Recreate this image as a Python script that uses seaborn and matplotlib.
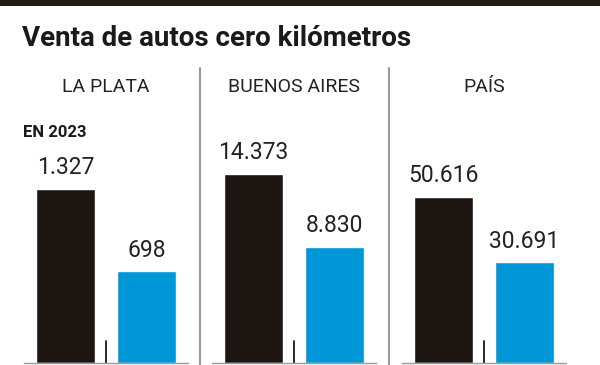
import matplotlib
matplotlib.use("Agg")
import matplotlib.pyplot as plt
import seaborn as sns
import pandas as pd

regions = ["LA PLATA", "BUENOS AIRES", "PAÍS"]
periods = ["2023", "2024"]
dark_values = [1327, 14373, 50616]
blue_values = [698, 8830, 30691]

DARK = "#1e1613"
BLUE = "#0097d8"
GRAY = "#9a9a9a"

sns.set_style("white")
plt.rcParams["font.family"] = ["Roboto", "DejaVu Sans"]

fig = plt.figure(figsize=(6, 3.65), dpi=100)
W, H = 600, 365

# top rule
fig.add_artist(plt.Rectangle((0, 1 - 6 / H), 1, 6 / H, transform=fig.transFigure,
                             color="#251b16", lw=0))
fig.text(22 / W, 1 - 46 / H, "Venta de autos cero kilómetros", fontsize=20,
         fontweight="bold", color="#1a1a1a", ha="left", va="baseline")
fig.text(23 / W, 1 - 137 / H, "EN 2023", fontsize=12, fontweight="bold",
         color="#1a1a1a", ha="left", va="baseline")

# separators between panels
for xs in [200, 389]:
    fig.add_artist(plt.Line2D([xs / W, xs / W], [0, 1 - 68 / H],
                              transform=fig.transFigure, color=GRAY, lw=1.5))

centers = [106, 294, 484]
ytops = [1700, 16960, 68000]
half = 82
unit = 81
ax_bottom, ax_top = 363, 140

for i, region in enumerate(regions):
    df = pd.DataFrame({"period": periods, "ventas": [dark_values[i], blue_values[i]]})
    left = centers[i] - half
    ax = fig.add_axes([left / W, (H - ax_bottom) / H, 2 * half / W,
                       (ax_bottom - ax_top) / H])
    sns.barplot(data=df, x="period", y="ventas", hue="period",
                palette=[DARK, BLUE], width=59 / unit, legend=False, ax=ax,
                saturation=1)
    ax.set_xlim(0.5 - half / unit, 0.5 + half / unit)
    ax.set_ylim(0, ytops[i])
    for p, v in zip(ax.patches, df["ventas"]):
        ax.annotate(f"{v:,}".replace(",", "."),
                    (p.get_x() + p.get_width() / 2, p.get_height()),
                    xytext=(0, 7), textcoords="offset points",
                    ha="center", va="bottom", fontsize=16.5, color="#222222")
    ax.axvline(0.5, ymin=0, ymax=22 / (ax_bottom - ax_top), color=DARK, lw=1.3)
    for s in ["top", "left", "right"]:
        ax.spines[s].set_visible(False)
    ax.spines["bottom"].set_color(GRAY)
    ax.spines["bottom"].set_linewidth(1)
    ax.set_xticks([])
    ax.set_yticks([])
    ax.set_xlabel("")
    ax.set_ylabel("")
    ax.patch.set_alpha(0)
    fig.text(centers[i] / W, 1 - 92 / H, region, fontsize=14, ha="center",
             va="baseline", color="#222222")

fig.savefig("out.png", dpi=100)
